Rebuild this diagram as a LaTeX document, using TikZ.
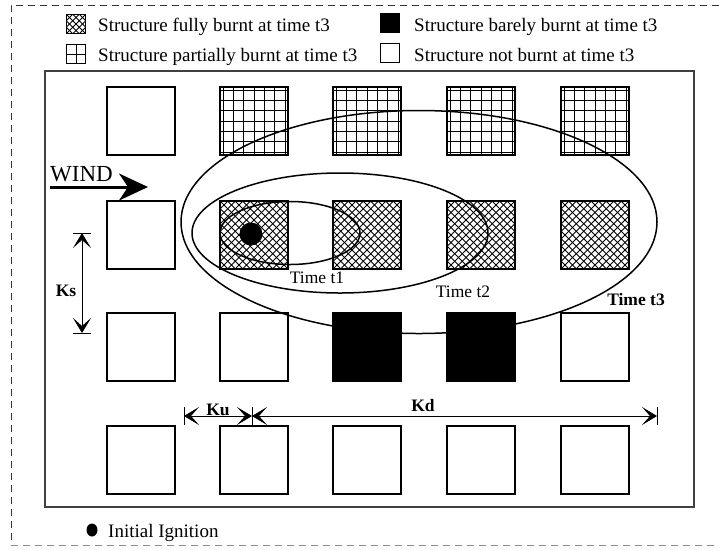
\documentclass[tikz,border=0pt]{standalone}
\usepackage{fontspec}
\setmainfont{Liberation Serif}
\usetikzlibrary{arrows.meta}
\tikzset{
  sq/.style={draw, line width=1.7pt, minimum size=68pt, inner sep=0pt, outer sep=0pt},
  xhatch/.style={path picture={
    \foreach \k in {-12,...,12}{
      \draw[line width=1pt] ([xshift=\k*7.5pt]path picture bounding box.south west) -- ++(90pt,90pt);
      \draw[line width=1pt] ([xshift=\k*7.5pt]path picture bounding box.south east) -- ++(-90pt,90pt);
    }}},
  gridfill/.style={path picture={
    \foreach \k in {0,...,6}{
      \draw[line width=0.9pt] ([xshift=3pt+\k*10.33pt]path picture bounding box.south west) -- ++(0,70pt);
      \draw[line width=0.9pt] ([yshift=3pt+\k*10.33pt]path picture bounding box.south west) -- ++(70pt,0);
    }}},
  blk/.style={sq, fill=black},
  icon/.style={draw, line width=0.9pt, minimum size=19pt, inner sep=0pt},
  ixhatch/.style={path picture={
    \foreach \k in {-4,...,4}{
      \draw[line width=0.8pt] ([xshift=\k*6.5pt]path picture bounding box.south west) -- ++(25pt,25pt);
      \draw[line width=0.8pt] ([xshift=\k*6.5pt]path picture bounding box.south east) -- ++(-25pt,25pt);
    }}},
  igrid/.style={path picture={
      \draw[line width=0.9pt] (path picture bounding box.south) -- (path picture bounding box.north);
      \draw[line width=0.9pt] (path picture bounding box.west) -- (path picture bounding box.east);
    }},
  leg/.style={anchor=base west, font=\fontsize{19}{21}\selectfont, inner sep=0pt},
  tlab/.style={font=\fontsize{17.5}{19}\selectfont, inner sep=0pt},
  klab/.style={font=\fontsize{17.5}{19}\selectfont\bfseries, inner sep=0pt},
  zone/.style={line width=1.5pt},
  dim/.style={line width=0.8pt, {Stealth[length=15pt,width=18pt,inset=8pt]}-{Stealth[length=15pt,width=18pt,inset=8pt]}},
  bar/.style={line width=0.8pt},
}
\begin{document}
\begin{tikzpicture}[x=1pt,y=-1pt]
\useasboundingbox (0,0) rectangle (719,550);
% outer dashed frame
\draw[line width=0.8pt, dash pattern=on 7pt off 5pt, black!80] (719,5) -- (11,5) -- (11,545);
\draw[line width=0.8pt, dash pattern=on 7pt off 5pt, black!45] (11,545) -- (719,545);
% inner frame
\draw[line width=1.2pt, black!75] (45,71) rectangle (694,507);

% legend
\node[icon, ixhatch] (ifull) at (76,24) {};
\node[leg] (tfull) at (98,31.5) {Structure fully burnt at time t3};
\node[icon, igrid] (ipart) at (76,54) {};
\node[leg] (tpart) at (98,61.5) {Structure partially burnt at time t3};
\node[icon, fill=black] (ibare) at (390,23) {};
\node[leg] (tbare) at (414,31.5) {Structure barely burnt at time t3};
\node[icon] (inot) at (390,53) {};
\node[leg] (tnot) at (414,61.5) {Structure not burnt at time t3};

% squares (centres)
\node[sq] (s11) at (141,121) {};
\node[sq, gridfill] (s12) at (254,121) {};
\node[sq, gridfill] (s13) at (367,121) {};
\node[sq, gridfill] (s14) at (481,121) {};
\node[sq, gridfill] (s15) at (595,121) {};

\node[sq] (s21) at (141,235) {};
\node[sq, xhatch] (s22) at (254,235) {};
\node[sq, xhatch] (s23) at (367,235) {};
\node[sq, xhatch] (s24) at (481,235) {};
\node[sq, xhatch] (s25) at (595,235) {};

\node[sq] (s31) at (141,347) {};
\node[sq] (s32) at (254,347) {};
\node[blk] (s33) at (367,347) {};
\node[blk] (s34) at (481,347) {};
\node[sq] (s35) at (595,347) {};

\node[sq] (s41) at (141,460) {};
\node[sq] (s42) at (254,460) {};
\node[sq] (s43) at (367,460) {};
\node[sq] (s44) at (481,460) {};
\node[sq] (s45) at (595,460) {};

% fire zones
\draw[zone] (419,222) ellipse [x radius=238, y radius=111.5];
\draw[zone] (340,233) ellipse [x radius=148, y radius=60];
\draw[zone] (290,233) ellipse [x radius=70, y radius=31.5];
\fill (251,234) circle [radius=11.5];

\node[tlab] (t1) at (317,278) {Time t1};
\node[tlab] (t2) at (463,292) {Time t2};
\node[klab] (t3) at (636,300) {Time t3};

% wind
\node[font=\fontsize{23}{25}\selectfont, inner sep=0pt, anchor=base west] (wind) at (50,181) {WIND};
\coordinate (wA) at (50,187);
\coordinate (wB) at (148,187);
\draw[line width=3pt, -{Stealth[length=29pt,width=27pt,inset=9pt]}] (wA) -- (wB);

% Ks
\coordinate (ksT) at (82,233);
\coordinate (ksB) at (82,333);
\draw[bar] (73,233) -- (91,233);
\draw[bar] (73,333) -- (91,333);
\draw[dim] (ksT) -- (ksB);
\node[klab] (ks) at (66,291) {Ks};

% Ku, Kd
\coordinate (kuL) at (184,416);
\coordinate (kuR) at (252,416);
\coordinate (kdR) at (657,416);
\draw[bar] (184,407) -- (184,425);
\draw[bar] (252,407) -- (252,425);
\draw[bar] (657,407) -- (657,425);
\draw[dim] (kuL) -- (kuR);
\draw[dim] (kuR) -- (kdR);
\node[klab] (ku) at (218,410) {Ku};
\node[klab] (kd) at (423,406) {Kd};

% initial ignition
\fill (92,530) ellipse [x radius=5.5, y radius=6.5];
\node[leg] (ign) at (108,537) {Initial Ignition};
\end{tikzpicture}
\end{document}
